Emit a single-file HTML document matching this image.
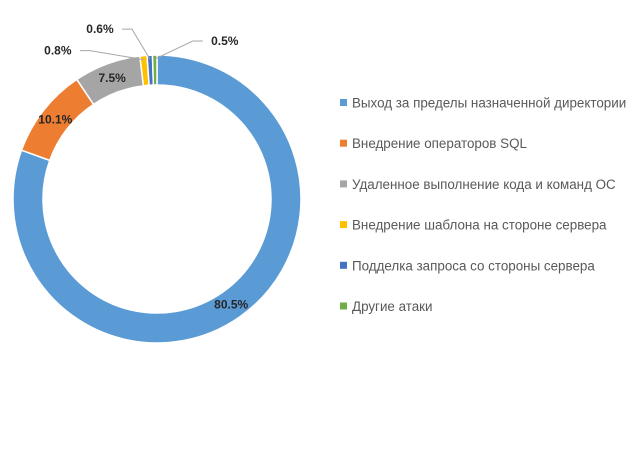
<!DOCTYPE html>
<html><head><meta charset="utf-8"><style>
body{margin:0;background:#fff;width:640px;height:463px;overflow:hidden;font-family:"Liberation Sans",sans-serif}
</style></head><body>
<svg width="640" height="463">
<g id="slices"></g>
<g id="labels"></g>
<g id="legend"></g>
</svg>
<script>
const categories=["Выход за пределы назначенной директории","Внедрение операторов SQL","Удаленное выполнение кода и команд ОС","Внедрение шаблона на стороне сервера","Подделка запроса со стороны сервера","Другие атаки"];
const values=[80.5,10.1,7.5,0.8,0.6,0.5];
const valueLabels=["80.5%","10.1%","7.5%","0.8%","0.6%","0.5%"];
const colors=["#5b9bd5","#ed7d31","#a5a5a5","#ffc000","#4472c4","#70ad47"];
const NS="http://www.w3.org/2000/svg";
const cx=157,cy=199,R=144,r=114;
const total=values.reduce((a,b)=>a+b,0);
const gS=document.getElementById('slices'),gL=document.getElementById('labels'),gG=document.getElementById('legend');
function pt(a,rad){return [cx+rad*Math.sin(a),cy-rad*Math.cos(a)];}
let acc=0;
values.forEach((v,i)=>{
  const a0=acc/total*2*Math.PI;acc+=v;const a1=acc/total*2*Math.PI;
  const large=(a1-a0)>Math.PI?1:0;
  const p0=pt(a0,R),p1=pt(a1,R),q1=pt(a1,r),q0=pt(a0,r);
  const p=document.createElementNS(NS,'path');
  p.setAttribute('d',`M${p0}A${R},${R} 0 ${large} 1 ${p1}L${q1}A${r},${r} 0 ${large} 0 ${q0}Z`);
  p.setAttribute('fill',colors[i]);p.setAttribute('stroke','#fff');p.setAttribute('stroke-width','1.5');
  
  
  gS.appendChild(p);
  const am=(a0+a1)/2;
  let tx,ty,anchor='middle';
  if(v>5){[tx,ty]=pt(am,(R+r)/2);}
  else{
    const e=pt(am,R-4);
    const off=[[-86,-9],[-50,-30],[70,-18]][i-3];
    tx=e[0]+off[0];ty=e[1]+off[1];
    const l=document.createElementNS(NS,'polyline');
    const lx=tx+(off[0]<0?22:-22);
    l.setAttribute('points',`${lx},${ty} ${lx+(off[0]<0?10:-10)},${ty} ${e[0]},${e[1]}`);
    l.setAttribute('fill','none');l.setAttribute('stroke','#a6a6a6');l.setAttribute('stroke-width','1');
    
    
    gL.appendChild(l);
  }
  const t=document.createElementNS(NS,'text');
  t.setAttribute('x',tx);t.setAttribute('y',ty+4);t.setAttribute('text-anchor',anchor);
  t.setAttribute('font-size','12');t.setAttribute('font-weight','bold');t.setAttribute('fill','#262626');
  t.textContent=valueLabels[i];
  
  
  gL.appendChild(t);
});
categories.forEach((c,i)=>{
  const y=103+i*40.7;
  const g=document.createElementNS(NS,'g');
  
  
  const s=document.createElementNS(NS,'rect');
  s.setAttribute('x',340);s.setAttribute('y',y-4);s.setAttribute('width',7);s.setAttribute('height',7);s.setAttribute('fill',colors[i]);
  const t=document.createElementNS(NS,'text');
  t.setAttribute('x',352);t.setAttribute('y',y+4.5);t.setAttribute('font-size','13.4');t.setAttribute('fill','#595959');
  t.textContent=c;
  g.appendChild(s);g.appendChild(t);gG.appendChild(g);
});
</script>
</body></html>
